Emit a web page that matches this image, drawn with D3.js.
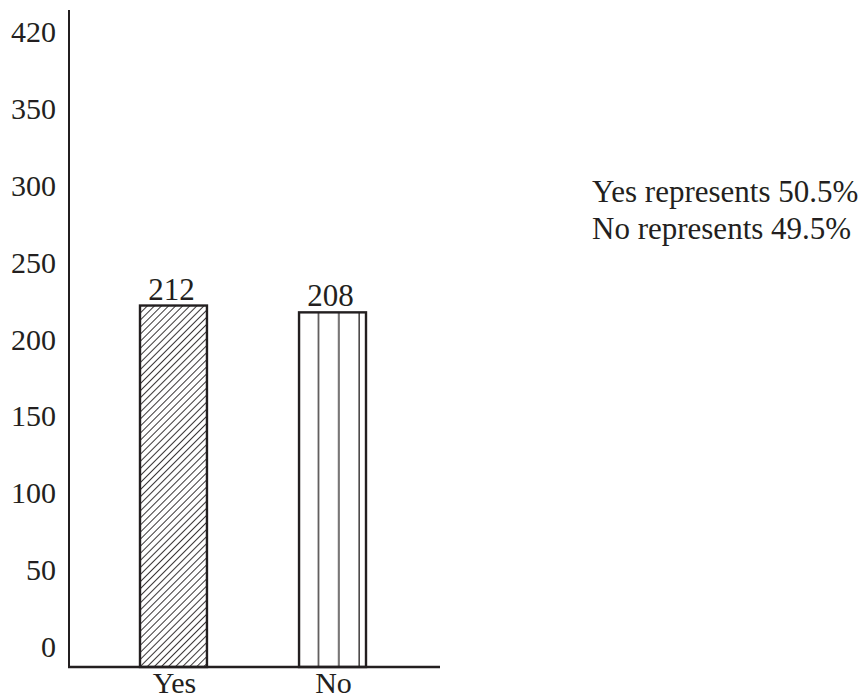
<!DOCTYPE html>
<html>
<head>
<meta charset="utf-8">
<script src="https://cdn.jsdelivr.net/npm/d3@7/dist/d3.min.js"></script>
<style>
  html, body { margin: 0; padding: 0; background: #fff; }
  svg { display: block; }
  text { font-family: "Liberation Serif", "Times New Roman", serif; fill: #231f20; }
</style>
</head>
<body>
<svg id="chart" width="861" height="699"></svg>
<script>
// ---- data ----
const categories = ["Yes", "No"];
const values = [212, 208];
const percents = [50.5, 49.5];
const tickLabels = ["0", "50", "100", "150", "200", "250", "300", "350", "420"];

// ---- layout ----
const ink = "#231f20";
const axisX = 69, axisBottom = 667, axisTop = 10, axisRight = 440;

const svg = d3.select("#chart");
const defs = svg.append("defs");

// diagonal hatch for "Yes"
const hatch = defs.append("pattern")
  .attr("id", "hatch").attr("patternUnits", "userSpaceOnUse")
  .attr("width", 5).attr("height", 5)
  .attr("patternTransform", "rotate(45)");
hatch.append("line").attr("x1", 0).attr("y1", 0).attr("x2", 0).attr("y2", 5)
  .attr("stroke", ink).attr("stroke-width", 1.8);

// scales
const x = d3.scaleBand().domain(categories).range([140, 366]).paddingInner(0.579).paddingOuter(0);
const y = d3.scaleLinear().domain([0, 420]).range([axisBottom, axisBottom - 420 * 1.705]);
const yLabels = d3.scalePoint().domain(tickLabels).range([647, 32]);

// vertical-line pattern for "No"
defs.append("pattern")
  .attr("id", "vlines").attr("patternUnits", "userSpaceOnUse")
  .attr("x", x("No")).attr("y", 0)
  .attr("width", 20.3).attr("height", 10)
  .append("line").attr("x1", 19.5).attr("x2", 19.5).attr("y1", 0).attr("y2", 10)
  .attr("stroke", ink).attr("stroke-width", 1.3);

const fills = { Yes: "url(#hatch)", No: "url(#vlines)" };
const data = categories.map((c, i) => ({ c, v: values[i] }));

// bars
svg.append("g").selectAll("rect").data(data).join("rect")
  .attr("x", d => x(d.c))
  .attr("y", d => y(d.v))
  .attr("width", x.bandwidth())
  .attr("height", d => y(0) - y(d.v))
  .attr("fill", d => fills[d.c])
  .attr("stroke", ink).attr("stroke-width", 2.4);

// value labels
svg.append("g").selectAll("text").data(data).join("text")
  .attr("x", d => x(d.c) + x.bandwidth() / 2 - 2)
  .attr("y", d => y(d.v) - 6)
  .attr("text-anchor", "middle")
  .attr("font-size", 31)
  .text(d => d.v);

// y tick labels via axis
const yAxis = svg.append("g").attr("transform", `translate(${axisX},0)`)
  .call(d3.axisLeft(yLabels).tickSize(0).tickPadding(13));
yAxis.select(".domain").remove();
yAxis.selectAll("text").attr("font-size", 30).attr("font-family", "Liberation Serif, serif").attr("fill", ink);

// category labels
svg.append("g").selectAll("text").data(categories).join("text")
  .attr("x", d => x(d) + x.bandwidth() / 2 + 1)
  .attr("y", 693)
  .attr("text-anchor", "middle")
  .attr("font-size", 30)
  .text(d => d);

// axis lines
svg.append("line").attr("x1", axisX).attr("x2", axisX).attr("y1", axisTop).attr("y2", axisBottom)
  .attr("stroke", ink).attr("stroke-width", 2);
svg.append("line").attr("x1", axisX - 1).attr("x2", axisRight).attr("y1", axisBottom).attr("y2", axisBottom)
  .attr("stroke", ink).attr("stroke-width", 2.6);

// legend text
svg.append("g").selectAll("text").data(categories).join("text")
  .attr("x", 592)
  .attr("y", (d, i) => 202 + i * 37)
  .attr("font-size", 31)
  .text((d, i) => `${d} represents ${percents[i]}%`);
</script>
</body>
</html>
